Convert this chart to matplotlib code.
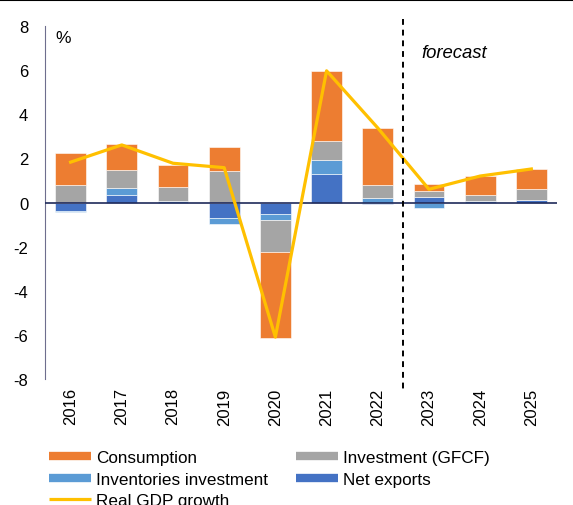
import matplotlib
matplotlib.use("Agg")
import matplotlib.pyplot as plt
from matplotlib.lines import Line2D
import numpy as np

plt.rcParams['font.family'] = ['Liberation Sans', 'DejaVu Sans']
plt.rcParams['axes.unicode_minus'] = False

years = ['2016', '2017', '2018', '2019', '2020', '2021', '2022', '2023', '2024', '2025']
net_exports = [-0.38, 0.36, 0.00, -0.69, -0.53, 1.27, -0.05, 0.23, 0.00, 0.12]
inventories = [-0.06, 0.32, 0.06, -0.29, -0.27, 0.67, 0.21, -0.25, 0.05, 0.00]
investment = [0.79, 0.79, 0.65, 1.42, -1.44, 0.85, 0.60, 0.29, 0.28, 0.48]
consumption = [1.47, 1.19, 1.01, 1.09, -3.89, 3.18, 2.56, 0.31, 0.85, 0.94]
gdp_growth = [1.83, 2.61, 1.78, 1.58, -6.10, 5.97, 3.38, 0.60, 1.20, 1.52]

series = [
    ('Net exports', net_exports, '#4472C4'),
    ('Inventories investment', inventories, '#5B9BD5'),
    ('Investment (GFCF)', investment, '#A5A5A5'),
    ('Consumption', consumption, '#ED7D31'),
]

fig, ax = plt.subplots(figsize=(5.73, 5.06), dpi=100)
fig.subplots_adjust(left=0.0785, right=0.972, top=0.9466, bottom=0.249)

x = np.arange(len(years))
pos_bottom = np.zeros(len(years))
neg_bottom = np.zeros(len(years))
for name, vals, col in series:
    v = np.array(vals)
    bottom = np.where(v >= 0, pos_bottom, neg_bottom)
    ax.bar(x, v, 0.6, bottom=bottom, color=col, edgecolor='white', linewidth=0.4, zorder=2)
    pos_bottom += np.where(v >= 0, v, 0)
    neg_bottom += np.where(v < 0, v, 0)

ax.plot(x, gdp_growth, color='#FFC000', lw=2.3, zorder=4)

ax.axhline(0, color='#1F2A5A', lw=1.2, zorder=3)
ax.plot([6.5, 6.5], [8.3, -8.6], color='black', lw=1.4, ls=(0, (3, 2.5)), clip_on=False, zorder=5)

ax.set_xlim(-0.5, 9.5)
ax.set_ylim(-8, 8)
ax.set_yticks(range(-8, 9, 2))
ax.set_xticks(x)
ax.set_xticklabels(years, rotation=90)
ax.tick_params(axis='both', length=0, labelsize=12)
ax.tick_params(axis='y', pad=12)
ax.tick_params(axis='x', pad=6)
for s in ['top', 'right', 'bottom']:
    ax.spines[s].set_visible(False)
ax.spines['left'].set_color('#6E6E8E')

ax.text(0.02, 0.99, '%', transform=ax.transAxes, fontsize=12.5, va='top', ha='left')
ax.text(6.85, 6.8, 'forecast', fontsize=13.3, style='italic', va='center', ha='left')

handles = [
    Line2D([], [], color='#ED7D31', lw=6, solid_capstyle='butt'),
    Line2D([], [], color='#5B9BD5', lw=6, solid_capstyle='butt'),
    Line2D([], [], color='#FFC000', lw=2.3, solid_capstyle='butt'),
    Line2D([], [], color='#A5A5A5', lw=6, solid_capstyle='butt'),
    Line2D([], [], color='#4472C4', lw=6, solid_capstyle='butt'),
]
labels = ['Consumption', 'Inventories investment', 'Real GDP growth',
          'Investment (GFCF)', 'Net exports']
fig.legend(handles, labels, ncol=2, loc='upper left', bbox_to_anchor=(0.0857, 0.108),
           frameon=False, fontsize=12.3, handlelength=2.45, handletextpad=0.3,
           columnspacing=1.62, labelspacing=0.38, borderaxespad=0, borderpad=0)

fig.add_artist(Line2D([0, 1], [0.999, 0.999], color='black', lw=1.5, transform=fig.transFigure))

fig.savefig('out.png', dpi=100)
